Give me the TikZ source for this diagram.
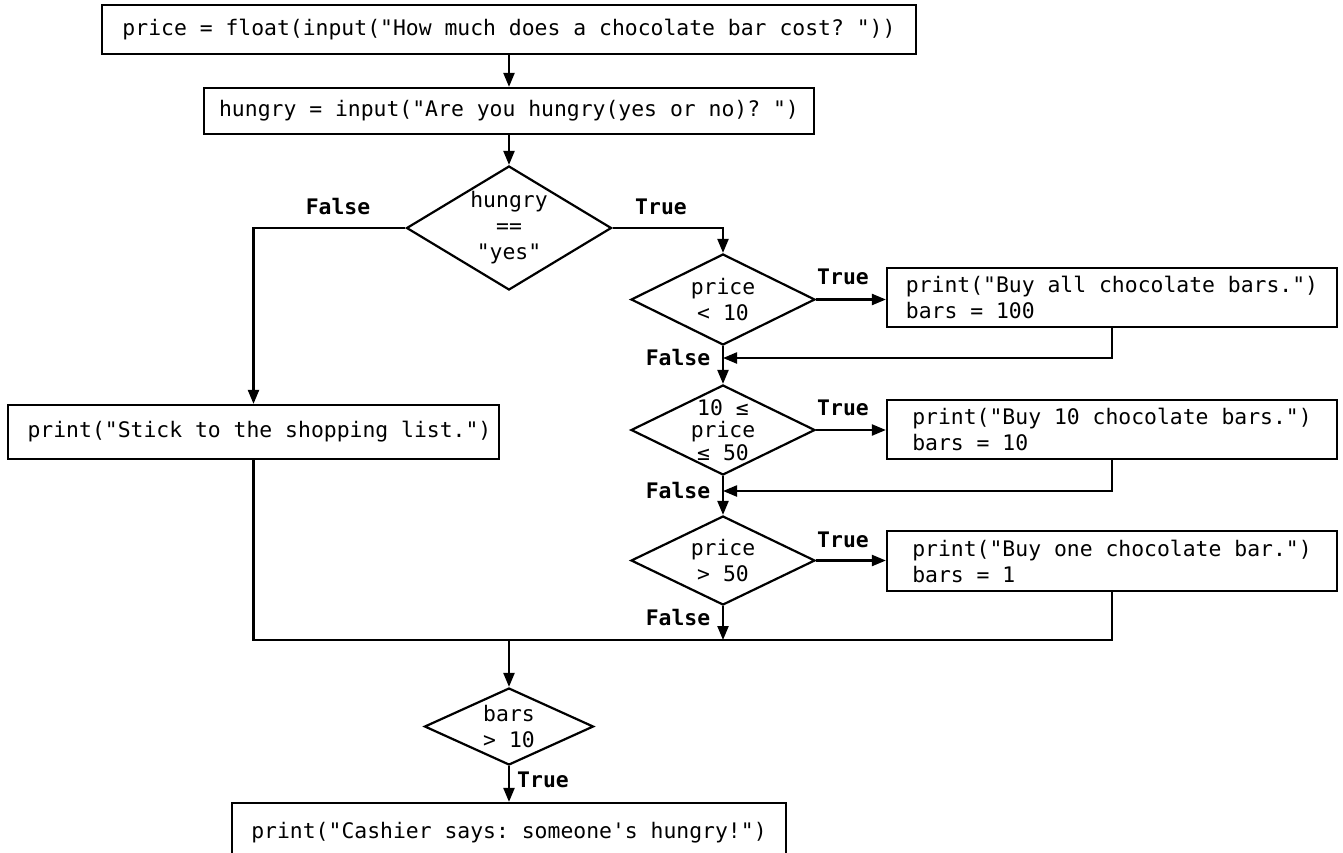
\documentclass[tikz,border=0pt]{standalone}
\usepackage{fontspec}
\setmonofont{DejaVu Sans Mono}
\usetikzlibrary{shapes.geometric,arrows.meta}
\begin{document}
\begin{tikzpicture}[x=0.5pt,y=-0.5pt,
  every node/.style={font=\ttfamily\fontsize{10.7pt}{13pt}\selectfont},
  box/.style={draw,line width=1.1pt,rectangle,inner sep=0pt,align=center},
  dia/.style={draw,line width=1.1pt,diamond,inner sep=0pt},
  lab/.style={font=\ttfamily\bfseries\fontsize{10.7pt}{13pt}\selectfont,inner sep=0pt},
  flow/.style={line width=1.1pt,-{Triangle[length=7pt,width=5.5pt]}},
  wire/.style={line width=1.1pt}]
\useasboundingbox (0,0) rectangle (1343,852);

% statements
\node[box,minimum width=407pt,minimum height=24.5pt] (start) at (509,29.5)
  {price = float(input("How much does a chocolate bar cost? "))};
\node[box,minimum width=305pt,minimum height=23pt] (ask) at (509,111)
  {hungry = input("Are you hungry(yes or no)? ")};
\node[box,minimum width=245.5pt,minimum height=27pt] (stick) at (253.5,432)
  {\hspace*{6pt}print("Stick to the shopping list.")};
\node[box,align=left,minimum width=225pt,minimum height=29.5pt] (b1) at (1112,297.5)
  {print("Buy all chocolate bars.")\\bars = 100};
\node[box,align=left,minimum width=225pt,minimum height=29.5pt] (b2) at (1112,429.5)
  {print("Buy 10 chocolate bars.") \\bars = 10};
\node[box,align=left,minimum width=225pt,minimum height=30pt] (b3) at (1112,561)
  {print("Buy one chocolate bar.") \\bars = 1};
\node[box,minimum width=277pt,minimum height=30pt] (end) at (509,833)
  {print("Cashier says: someone's hungry!")};

% decisions
\node[dia,minimum width=102.5pt,minimum height=62pt] (hun) at (509,228) {};
\node[align=center] (thun) at (hun) {hungry\\==\\"yes"};
\node[dia,minimum width=92pt,minimum height=45.5pt] (d2) at (723,299.5) {};
\node[align=center] (td2) at (d2) {price\\< 10};
\node[dia,minimum width=92pt,minimum height=45pt] (d3) at (723,430) {};
\node[align=center,font=\ttfamily\fontsize{10.7pt}{11.4pt}\selectfont] (td3) at (d3) {10 ≤\\price\\≤ 50};
\node[dia,minimum width=92pt,minimum height=44.5pt] (d4) at (723,560.5) {};
\node[align=center] (td4) at (d4) {price\\> 50};
\node[dia,minimum width=84.5pt,minimum height=38.5pt] (bars) at (509,726.5) {};
\node[align=center] (tbars) at (bars) {bars\\> 10};

% junction points
\coordinate (j1) at (723,358);
\coordinate (j2) at (723,491);
\coordinate (jm) at (723,640);
\coordinate (jr) at (1112,640);
\coordinate (merge) at (509,640);

% connectors
\draw[flow] (start) -- (ask);
\draw[flow] (ask) -- (hun);
\draw[flow] (hun.west) -| (stick.north);
\draw[flow] (hun.east) -| (d2.north);
\draw[flow] (d2.east) -- (d2.east -| b1.west);
\draw[flow] (b1.south) |- (j1);
\draw[flow] (d2.south) -- (d3.north);
\draw[flow] (d3.east) -- (d3.east -| b2.west);
\draw[flow] (b2.south) |- (j2);
\draw[flow] (d3.south) -- (d4.north);
\draw[flow] (d4.east) -- (d4.east -| b3.west);
\draw[flow] (d4.south) -- (jm);
\draw[wire] (stick.south) |- (jr) -- (b3.south);
\draw[flow] (merge) -- (bars.north);
\draw[flow] (bars.south) -- (end.north);

% branch labels
\node[lab] (lf0) at (338,207) {False};
\node[lab] (lt0) at (661,207) {True};
\node[lab] (lt1) at (843,277) {True};
\node[lab] (lf1) at (678,358) {False};
\node[lab] (lt2) at (843,408) {True};
\node[lab] (lf2) at (678,491) {False};
\node[lab] (lt3) at (843,540) {True};
\node[lab] (lf3) at (678,618) {False};
\node[lab] (lt4) at (543,780) {True};
\end{tikzpicture}
\end{document}
